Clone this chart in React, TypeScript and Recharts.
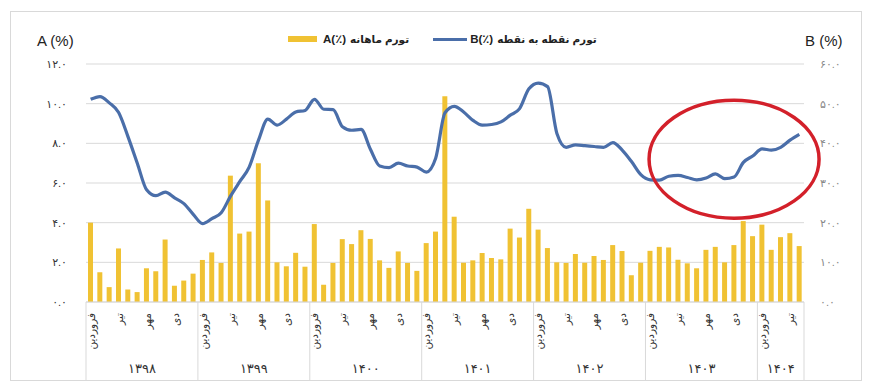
import React from 'react';
import { ComposedChart, Bar, Line, XAxis, YAxis, CartesianGrid, ReferenceDot } from 'recharts';

// Monthly inflation (A, left axis) and point-to-point inflation (B, right axis), 1398/01 .. 1404/05
const YEARS = ['۱۳۹۸', '۱۳۹۹', '۱۴۰۰', '۱۴۰۱', '۱۴۰۲', '۱۴۰۳', '۱۴۰۴'];
const MONTHS_PER_YEAR = [12, 12, 12, 12, 12, 12, 5];
const MONTH_LABELS: Record<number, string> = { 1: 'فروردین', 4: 'تیر', 7: 'مهر', 10: 'دی' };

const A_VALUES = [
  4.0, 1.5, 0.75, 2.7, 0.63, 0.5, 1.7, 1.55, 3.15, 0.82, 1.08, 1.43,
  2.12, 2.5, 1.97, 6.37, 3.45, 3.55, 7.0, 5.12, 2.0, 1.8, 2.48, 1.78,
  3.93, 0.87, 1.97, 3.17, 2.92, 3.62, 3.18, 2.1, 1.72, 2.55, 1.97, 1.57,
  2.97, 3.55, 10.37, 4.3, 1.98, 2.1, 2.47, 2.22, 2.15, 3.7, 3.25, 4.7,
  3.65, 2.72, 2.0, 1.97, 2.42, 1.98, 2.32, 2.12, 2.87, 2.57, 1.35, 1.98,
  2.58, 2.78, 2.75, 2.13, 1.95, 1.7, 2.63, 2.78, 2.0, 2.87, 4.08, 3.32,
  3.9, 2.63, 3.27, 3.47, 2.82,
];

const B_VALUES = [
  51.1, 51.8, 50.2, 47.75, 41.7, 35, 28.3, 26.8, 27.7, 26.25, 24.8, 22.1,
  19.75, 21, 22.5, 26.7, 30.4, 34, 40.8, 46.1, 44.6, 46.1, 47.9, 48.3,
  51.1, 48.6, 48.5, 44.2, 43.3, 43.5, 38.5, 34.3, 33.9, 35, 34.3, 34,
  32.75, 36.25, 47.7, 49.3, 47.9, 45.8, 44.6, 44.75, 45.4, 47.1, 48.75, 53.75,
  55.2, 54.3, 42.5, 39, 39.6, 39.4, 39.2, 39, 40.2, 38.3, 35.4, 32.1,
  30.8, 30.7, 31.7, 31.9, 31.4, 30.8, 31.25, 32.3, 31.1, 31.5, 35.2, 36.8,
  38.6, 38.3, 39, 40.8, 42.25,
];

const LEFT_TICKS = [0, 2, 4, 6, 8, 10, 12];
const RIGHT_TICKS = [0, 10, 20, 30, 40, 50, 60];

// highlighted region (the red ellipse) is centred on 1403 / month 10
const HIGHLIGHT_INDEX = 69;
const HIGHLIGHT_B = 36;

type Row = { key: string; yearIdx: number; m: number; count: number; A: number; B: number };

const rows: Row[] = [];
YEARS.forEach((_, yi) => {
  for (let m = 1; m <= MONTHS_PER_YEAR[yi]; m++) {
    const i = rows.length;
    rows.push({ key: `${yi}-${m}`, yearIdx: yi, m, count: MONTHS_PER_YEAR[yi], A: A_VALUES[i], B: B_VALUES[i] });
  }
});

const W = 850;
const H = 368;
const MARGIN = { top: 52, right: 7, bottom: 0, left: 20 };
const LEFT_W = 55;
const RIGHT_W = 50;
const X_H = 78;
const PLOT_W = W - MARGIN.left - MARGIN.right - LEFT_W - RIGHT_W;
const PLOT_BOTTOM = H - MARGIN.bottom - X_H;
const STEP = PLOT_W / rows.length;

const FONT = "'Liberation Sans', 'DejaVu Sans', sans-serif";
const GRID = '#d9d9d9';

const fa = (s: string) => s.replace(/\d/g, (d) => '۰۱۲۳۴۵۶۷۸۹'[Number(d)]);

const MonthTick = (props: any) => {
  const { x, index } = props;
  const row = rows[index];
  if (!row) return null;
  const label = MONTH_LABELS[row.m];
  const last = index === rows.length - 1;
  return (
    <g>
      {row.m === 1 && (
        <line x1={x - STEP / 2} x2={x - STEP / 2} y1={PLOT_BOTTOM} y2={H} stroke={GRID} />
      )}
      {last && <line x1={x + STEP / 2} x2={x + STEP / 2} y1={PLOT_BOTTOM} y2={H} stroke={GRID} />}
      {label && (
        <text
          x={x + 4}
          y={PLOT_BOTTOM + 11}
          transform={`rotate(-90 ${x + 4} ${PLOT_BOTTOM + 11})`}
          textAnchor="end"
          fontSize={10.5}
          fill="#333"
          fontFamily={FONT}
        >
          {label}
        </text>
      )}
      {row.m === 1 && (
        <text
          x={x + ((row.count - 1) / 2) * STEP}
          y={PLOT_BOTTOM + 71}
          textAnchor="middle"
          fontSize={13}
          fill="#333"
          fontFamily={FONT}
        >
          {YEARS[row.yearIdx]}
        </text>
      )}
    </g>
  );
};

const Ellipse = (props: any) => (
  <ellipse cx={props.cx} cy={props.cy} rx={85} ry={59} fill="none" stroke="#d3202a" strokeWidth={3.5} />
);

export default function App() {
  return (
    <div
      style={{
        position: 'relative',
        width: W,
        height: H,
        marginLeft: 2,
        marginTop: 3,
        border: '1px solid #d9d9d9',
        fontFamily: FONT,
        color: '#222',
      }}
    >
      <div style={{ position: 'absolute', left: 26, top: 20, fontSize: 15 }}>A (%)</div>
      <div style={{ position: 'absolute', left: 794, top: 20, fontSize: 15 }}>B (%)</div>
      <div
        style={{
          position: 'absolute',
          left: 277,
          top: 20,
          height: 14,
          display: 'flex',
          alignItems: 'center',
          fontSize: 11.5,
          fontWeight: 'bold',
          whiteSpace: 'nowrap',
        }}
      >
        <span style={{ width: 29, height: 6, background: '#f0c233', marginRight: 6 }} />
        <span>A(٪)</span>
        <span style={{ marginLeft: 4, fontSize: 10.5 }}>تورم ماهانه</span>
        <span style={{ width: 34, height: 3, background: '#4a6ea9', marginLeft: 24, marginRight: 3 }} />
        <span>B(٪)</span>
        <span style={{ marginLeft: 4, fontSize: 10.5 }}>تورم نقطه به نقطه</span>
      </div>
      <ComposedChart width={W} height={H} data={rows} margin={MARGIN} barSize={5}>
        <CartesianGrid yAxisId="left" vertical={false} stroke={GRID} />
        <XAxis
          dataKey="key"
          interval={0}
          height={X_H}
          tickLine={false}
          axisLine={{ stroke: GRID }}
          tick={<MonthTick />}
        />
        <YAxis
          yAxisId="left"
          width={LEFT_W}
          domain={[0, 12]}
          ticks={LEFT_TICKS}
          axisLine={false}
          tickLine={false}
          tickMargin={13}
          tickFormatter={(v) => fa(Number(v).toFixed(1))}
          tick={{ fontSize: 11, fill: '#333', fontFamily: FONT }}
        />
        <YAxis
          yAxisId="right"
          orientation="right"
          width={RIGHT_W}
          domain={[0, 60]}
          ticks={RIGHT_TICKS}
          axisLine={false}
          tickLine={false}
          tickMargin={10}
          tickFormatter={(v) => fa(Number(v).toFixed(1))}
          tick={{ fontSize: 11, fill: '#888', fontFamily: FONT, textAnchor: 'start' }}
        />
        <Bar yAxisId="left" dataKey="A" fill="#f0c233" isAnimationActive={false} />
        <Line
          yAxisId="right"
          type="monotone"
          dataKey="B"
          stroke="#4a6ea9"
          strokeWidth={3.2}
          dot={false}
          activeDot={false}
          isAnimationActive={false}
        />
        <ReferenceDot
          yAxisId="right"
          x={rows[HIGHLIGHT_INDEX].key}
          y={HIGHLIGHT_B}
          shape={<Ellipse />}
          ifOverflow="visible"
        />
      </ComposedChart>
    </div>
  );
}
